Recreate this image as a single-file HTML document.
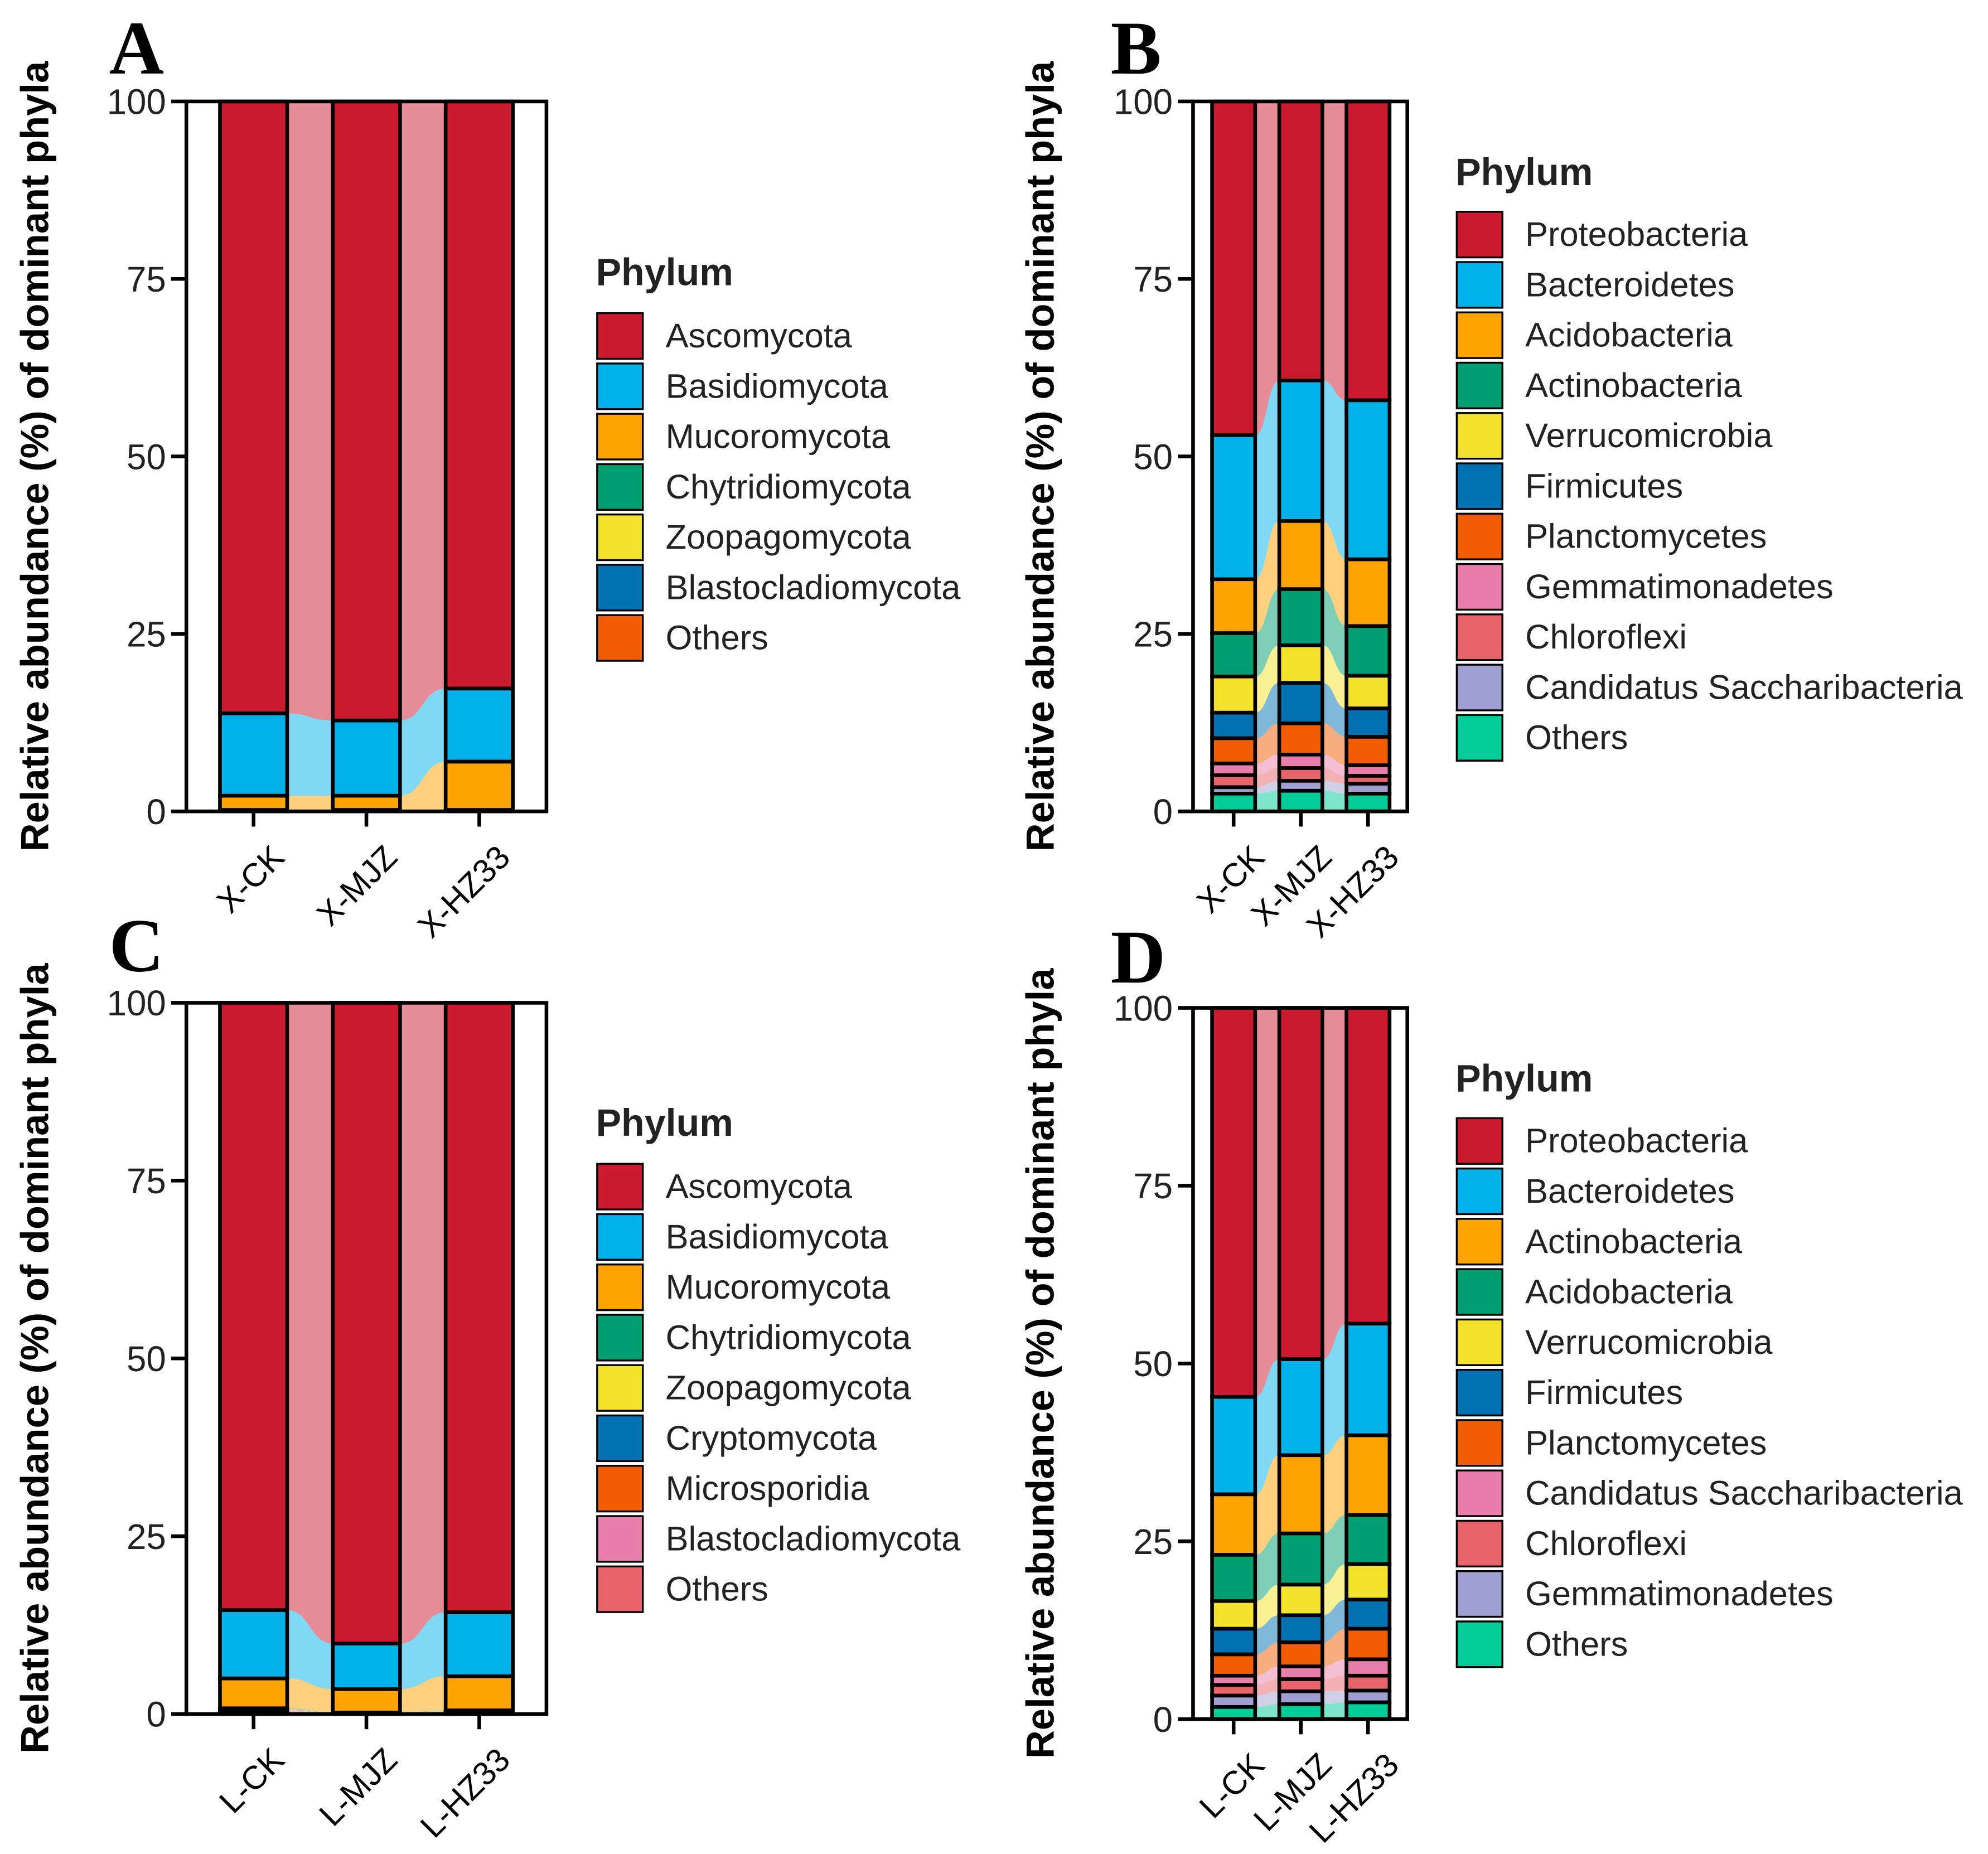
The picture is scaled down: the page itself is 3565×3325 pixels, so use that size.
<!DOCTYPE html>
<html><head><meta charset="utf-8"><style>
html,body{margin:0;padding:0;background:#fff;}
svg{display:block;font-family:"Liberation Sans",Arial,sans-serif;}
</style></head><body>
<svg id="fig" width="3565" height="3325" viewBox="0 0 1568 1462.4" xmlns="http://www.w3.org/2000/svg"></svg>
<script>
// ---- data (percent) ; arrays follow legend order (top of stack first) ----
const fungiA = ["Ascomycota","Basidiomycota","Mucoromycota","Chytridiomycota","Zoopagomycota","Blastocladiomycota","Others"];
const samplesA = ["X-CK","X-MJZ","X-HZ33"];
const valsA_XCK = [86.2,11.6,2.0,0.08,0.05,0.03,0.04];
const valsA_XMJZ = [87.2,10.6,2.0,0.08,0.05,0.03,0.04];
const valsA_XHZ33 = [82.7,10.3,6.8,0.08,0.05,0.03,0.04];

const bactB = ["Proteobacteria","Bacteroidetes","Acidobacteria","Actinobacteria","Verrucomicrobia","Firmicutes","Planctomycetes","Gemmatimonadetes","Chloroflexi","Candidatus Saccharibacteria","Others"];
const samplesB = ["X-CK","X-MJZ","X-HZ33"];
const valsB_XCK = [47.0,20.3,7.6,6.1,5.1,3.6,3.55,1.65,1.7,0.9,2.5];
const valsB_XMJZ = [39.3,19.8,9.6,7.9,5.3,5.7,4.4,1.9,1.8,1.4,2.9];
const valsB_XHZ33 = [42.1,22.4,9.4,7.0,4.6,4.0,4.0,1.5,1.1,1.4,2.5];

const fungiC = ["Ascomycota","Basidiomycota","Mucoromycota","Chytridiomycota","Zoopagomycota","Cryptomycota","Microsporidia","Blastocladiomycota","Others"];
const samplesC = ["L-CK","L-MJZ","L-HZ33"];
const valsC_LCK = [85.4,9.6,4.2,0.1,0.05,0.05,0.05,0.05,0.5];
const valsC_LMJZ = [90.1,6.4,3.3,0.05,0.03,0.03,0.03,0.03,0.03];
const valsC_LHZ33 = [85.7,9.0,4.8,0.1,0.05,0.05,0.05,0.05,0.2];

const bactD = ["Proteobacteria","Bacteroidetes","Actinobacteria","Acidobacteria","Verrucomicrobia","Firmicutes","Planctomycetes","Candidatus Saccharibacteria","Chloroflexi","Gemmatimonadetes","Others"];
const samplesD = ["L-CK","L-MJZ","L-HZ33"];
const valsD_LCK = [54.7,13.7,8.5,6.5,3.9,3.6,3.0,1.3,1.5,1.6,1.7];
const valsD_LMJZ = [49.4,13.5,11.0,7.2,4.3,3.8,3.4,1.8,1.7,1.8,2.1];
const valsD_LHZ33 = [44.4,15.7,11.2,6.9,5.0,4.1,4.3,2.3,2.1,1.65,2.35];

const yTicks = [0,25,50,75,100];

const PAL = ["#CB1A2D","#00B2E9","#FFA300","#009E70","#F4E22A","#0072B2","#F25C00","#E87FAA","#E8636A","#A09FD2","#00CC98"];
const PAL_A = ["#CB1A2D","#00B2E9","#FFA300","#009E70","#F4E22A","#0072B2","#F25C00"];
const PAL_C = ["#CB1A2D","#00B2E9","#FFA300","#009E70","#F4E22A","#0072B2","#F25C00","#E87FAA","#E8636A"];

const NS="http://www.w3.org/2000/svg";
const svg=document.getElementById('fig');
function mk(tag,attrs,parent){const e=document.createElementNS(NS,tag);for(const k in attrs)e.setAttribute(k,attrs[k]);(parent||svg).appendChild(e);return e;}
const SW=2.9;

function drawPanel(cfg){
  const g=mk('g',{});
  
  
  const yS=v=>cfg.yBot-(cfg.yBot-cfg.yTop)*v/100;
  const stacks=cfg.vals.map(arr=>{let cum=0;const out=[];for(let i=arr.length-1;i>=0;i--){out[i]=[cum,cum+arr[i]];cum+=arr[i];}
    out[0][1]=100;return out;});
  for(let s=0;s<stacks.length-1;s++){
    const xa=cfg.centers[s]+cfg.bw/2, xb=cfg.centers[s+1]-cfg.bw/2, xm=(xa+xb)/2;
    for(let c=0;c<cfg.cats.length;c++){
      const a=stacks[s][c], b=stacks[s+1][c];
      const d=`M${xa},${yS(a[1])} C${xm},${yS(a[1])} ${xm},${yS(b[1])} ${xb},${yS(b[1])} L${xb},${yS(b[0])} C${xm},${yS(b[0])} ${xm},${yS(a[0])} ${xa},${yS(a[0])} Z`;
      const p=mk('path',{d:d,fill:cfg.pal[c],'fill-opacity':0.5,stroke:'none'},g);
      
      
    }
  }
  stacks.forEach((st,s)=>{
    st.forEach((seg,c)=>{
      const y1=yS(seg[1]), y0=yS(seg[0]);
      const r=mk('rect',{x:cfg.centers[s]-cfg.bw/2,y:y1,width:cfg.bw,height:Math.max(0,y0-y1),fill:cfg.pal[c],stroke:'#000','stroke-width':SW},g);
      
      
    });
  });
  const fr=mk('rect',{x:cfg.x0,y:cfg.yTop,width:cfg.x1-cfg.x0,height:cfg.yBot-cfg.yTop,fill:'none',stroke:'#000','stroke-width':SW},g);
  
  
  yTicks.forEach(t=>{
    const y=yS(t);
    const tk=mk('line',{x1:cfg.x0-12,x2:cfg.x0,y1:y,y2:y,stroke:'#000','stroke-width':SW},g);
    
    
    const tl=mk('text',{x:cfg.x0-16,y:y+10,'text-anchor':'end','font-size':28,fill:'#222'},g);
    tl.textContent=t;
    
    
  });
  cfg.samples.forEach((sname,s)=>{
    const cx=cfg.centers[s];
    const tk=mk('line',{x1:cx,x2:cx,y1:cfg.yBot,y2:cfg.yBot+12,stroke:'#000','stroke-width':SW},g);
    
    
    const tl=mk('text',{x:0,y:0,'text-anchor':'end','font-size':26,fill:'#000',transform:`translate(${cx+12},${cfg.yBot+24}) rotate(-45)`,dy:'0.75em'},g);
    tl.textContent=sname;
    
    
  });
  const yc=(cfg.yTop+cfg.yBot)/2;
  const yt=mk('text',{x:0,y:0,'text-anchor':'middle','font-size':31,'font-weight':'bold',fill:'#000',transform:`translate(${cfg.ytx},${yc}) rotate(-90)`},g);
  yt.textContent='Relative abundance (%) of dominant phyla';
  
  
  const pl=mk('text',{x:cfg.letterX,y:cfg.letterY,'font-family':'"Liberation Serif",serif','font-size':60,'font-weight':'bold',fill:'#000'},g);
  pl.textContent=cfg.letter;
  
  
  const lt=mk('text',{x:cfg.legX-1,y:cfg.legTitleY,'font-size':30,'font-weight':'bold',fill:'#222'},g);
  lt.textContent='Phylum';
  
  
  cfg.cats.forEach((c,i)=>{
    const y=cfg.legY0+i*39.7;
    const kb=mk('rect',{x:cfg.legX,y:y,width:36,height:36,fill:cfg.pal[i],stroke:'#000','stroke-width':1.5},g);
    
    
    const kt=mk('text',{x:cfg.legX+54,y:y+27,'font-size':27,fill:'#222'},g);
    kt.textContent=c;
    
    
  });
}

drawPanel({letter:'A',letterX:86,letterY:58,x0:147,x1:431,yTop:80,yBot:640,centers:[200,289,378],bw:53,
  cats:fungiA,samples:samplesA,vals:[valsA_XCK,valsA_XMJZ,valsA_XHZ33],pal:PAL_A,ytx:38,legX:471,legTitleY:225,legY0:247});
drawPanel({letter:'B',letterX:876,letterY:58,x0:941,x1:1110,yTop:80,yBot:640,centers:[973,1026,1079],bw:34,
  cats:bactB,samples:samplesB,vals:[valsB_XCK,valsB_XMJZ,valsB_XHZ33],pal:PAL,ytx:831,legX:1149,legTitleY:146,legY0:167});
drawPanel({letter:'C',letterX:86,letterY:766,x0:147,x1:431,yTop:791,yBot:1352,centers:[200,289,378],bw:53,
  cats:fungiC,samples:samplesC,vals:[valsC_LCK,valsC_LMJZ,valsC_LHZ33],pal:PAL_C,ytx:38,legX:471,legTitleY:896,legY0:918});
drawPanel({letter:'D',letterX:876,letterY:775,x0:941,x1:1110,yTop:795,yBot:1356,centers:[973,1026,1079],bw:34,
  cats:bactD,samples:samplesD,vals:[valsD_LCK,valsD_LMJZ,valsD_LHZ33],pal:PAL,ytx:831,legX:1149,legTitleY:861,legY0:882});
</script>
</body></html>
